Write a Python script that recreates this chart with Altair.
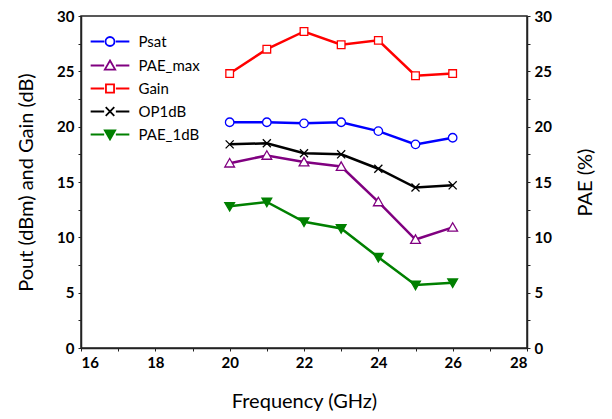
import altair as alt
import pandas as pd

freq = [20, 21, 22, 23, 24, 25, 26]
psat = [20.4, 20.4, 20.3, 20.4, 19.6, 18.4, 19.0]
pae_max = [16.7, 17.4, 16.8, 16.4, 13.2, 9.8, 10.9]
gain = [24.8, 27.0, 28.6, 27.4, 27.8, 24.6, 24.8]
op1db = [18.4, 18.5, 17.6, 17.5, 16.2, 14.5, 14.7]
pae_1db = [12.8, 13.2, 11.4, 10.8, 8.2, 5.7, 5.9]

series_names = ["Psat", "PAE_max", "Gain", "OP1dB", "PAE_1dB"]
series_colors = ["#0000FF", "#800080", "#FF0000", "#000000", "#008000"]
series_fills = ["white", "white", "white", "white", "#008000"]
left_series = ["Psat", "Gain", "OP1dB"]
right_series = ["PAE_max", "PAE_1dB"]

x_ticks = list(range(16, 29))
y_ticks = [i * 2.5 for i in range(13)]

rows = []
for name, vals in zip(series_names, [psat, pae_max, gain, op1db, pae_1db]):
    for f, v in zip(freq, vals):
        rows.append({"freq": f, "value": v, "series": name})
df = pd.DataFrame(rows)

# marker shapes
circle = "M1,0A1,1,0,1,1,-1,0A1,1,0,1,1,1,0Z"
tri_up = "M0,-1.1L1.15,0.9L-1.15,0.9Z"
square = "M-0.9,-0.9H0.9V0.9H-0.9Z"
xmark = "M-0.95,-0.95L0.95,0.95M-0.95,0.95L0.95,-0.95"
tri_dn = "M-1.15,-0.9L1.15,-0.9L0,1.1Z"
shapes = [circle, tri_up, square, xmark, tri_dn]
seg = "M-4.3,0H-1.3M1.3,0H4.3"
legend_shapes = [seg + s for s in shapes]

FONT = "Lato"

legend_def = alt.Legend(
    title=None,
    orient="top-left",
    offset=18,
    symbolOffset=3.5,
    padding=0,
    symbolSize=81,
    symbolStrokeWidth=1.8,
    labelFont=FONT,
    labelFontSize=15,
    labelColor="black",
    labelOffset=21,
    rowPadding=6,
)

x_enc = alt.X(
    "freq:Q",
    scale=alt.Scale(domain=[16, 28], nice=False),
    axis=alt.Axis(
        values=x_ticks,
        labelExpr="datum.value % 2 == 0 ? datum.label : ''",
        title="Frequency (GHz)",
        titlePadding=21,
        labelPadding=4,
    ),
)


def y_enc(axis):
    return alt.Y("value:Q", scale=alt.Scale(domain=[0, 30], nice=False), axis=axis)


def group(names, axis, with_legend):
    base = alt.Chart(df)
    layers = []
    for n in names:
        i = series_names.index(n)
        layers.append(
            base.transform_filter(alt.datum.series == n)
            .mark_line(strokeWidth=2.5, color=series_colors[i])
            .encode(x=x_enc, y=y_enc(axis))
        )
    for n in names:
        i = series_names.index(n)
        layers.append(
            base.transform_filter(alt.datum.series == n)
            .mark_point(
                shape=shapes[i],
                size=72,
                filled=True,
                fill=series_fills[i],
                stroke=series_colors[i],
                strokeWidth=1.3,
                opacity=1,
            )
            .encode(x=x_enc, y=y_enc(axis))
        )
    if with_legend:
        # legend-only layer: no rows drawn, entries come from the explicit scale domains
        layers.append(
            base.transform_filter("datum.freq < 0")
            .mark_point(filled=True, opacity=1)
            .encode(
                x=x_enc,
                y=y_enc(axis),
                stroke=alt.Stroke(
                    "series:N",
                    scale=alt.Scale(domain=series_names, range=series_colors),
                    legend=legend_def,
                ),
                shape=alt.Shape(
                    "series:N",
                    scale=alt.Scale(domain=series_names, range=legend_shapes),
                    legend=legend_def,
                ),
                fill=alt.Fill(
                    "series:N",
                    scale=alt.Scale(domain=series_names, range=series_fills),
                    legend=legend_def,
                ),
            )
        )
    return alt.layer(*layers)


left_axis = alt.Axis(
    orient="left",
    values=y_ticks,
    labelExpr="datum.value % 5 == 0 ? datum.label : ''",
    title="Pout (dBm) and Gain (dB)",
    titlePadding=20,
    labelPadding=4,
)
right_axis = alt.Axis(
    orient="right",
    values=y_ticks,
    labelExpr="datum.value % 5 == 0 ? datum.label : ''",
    title="PAE (%)",
    titleAngle=270,
    titlePadding=44,
    labelPadding=4,
)

chart = (
    alt.layer(
        group(left_series, left_axis, True),
        group(right_series, right_axis, False),
    )
    .resolve_scale(y="independent")
    .properties(
        width=446,
        height=332,
        autosize=alt.AutoSizeParams(type="none"),
        padding={"left": 73, "top": 8, "right": 77, "bottom": 63},
        background="white",
    )
    .configure_view(stroke="#222222", strokeWidth=1.5)
    .configure_axis(
        labelFont=FONT,
        labelFontWeight="bold",
        labelFontSize=15,
        labelColor="black",
        titleFont=FONT,
        titleFontWeight="normal",
        titleFontSize=20,
        titleColor="black",
        domainColor="#222222",
        domainWidth=1.5,
        tickColor="#222222",
        tickSize=3,
        tickWidth=1,
        grid=False,
    )
)

chart.save("out.html", embed_options={"renderer": "svg", "actions": False})
